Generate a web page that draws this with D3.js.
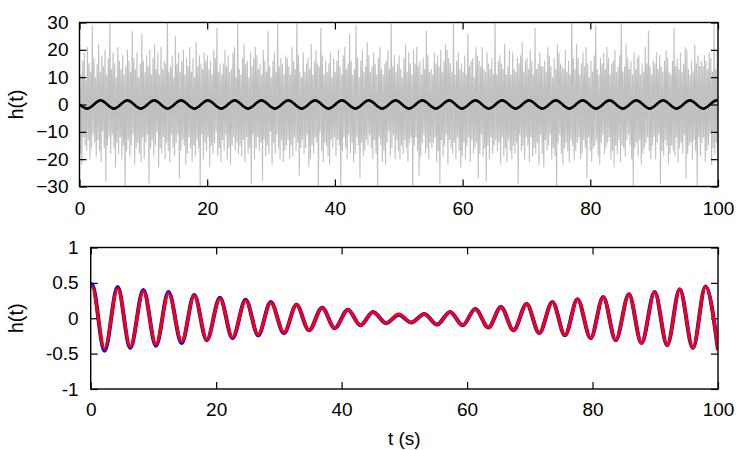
<!DOCTYPE html>
<html>
<head>
<meta charset="utf-8">
<script src="https://cdn.jsdelivr.net/npm/d3@7"></script>
<style>
  body { margin: 0; background: #fff; }
  text { font-family: "Liberation Sans", Arial, sans-serif; }
</style>
</head>
<body>
<div id="chart"></div>
<script>
// dati

// pannello alto: rumore grigio (campioni equispaziati su 0..100 s)
var rumore = [
 14,-18,11,-22,16,-12,19,-15,9,-17,21,-13,15,-20,12,-16,29,-11,17,-14,
 10,-19,15,-13,22,-17,12,-21,18,-10,14,-16,20,-28,11,-15,17,-12,31,-18,
 13,-11,19,-16,15,-23,10,-14,21,-18,16,-12,13,-20,18,-15,11,-31,14,-17,
 20,-13,16,-19,12,-15,27,-11,17,-22,13,-16,19,-14,10,-18,15,-21,26,-12,
 16,-20,12,-14,18,-11,14,-29,20,-16,11,-13,17,-19,22,-15,13,-10,19,-23,
 11,-16,21,-18,13,-12,16,-20,15,-14,33,-17,12,-21,14,-11,18,-16,10,-19,
 25,-14,15,-11,19,-27,12,-17,16,-13,20,-15,11,-22,17,-18,14,-12,21,-16,
 12,-21,17,-15,10,-19,23,-13,14,-16,18,-30,15,-11,13,-20,19,-14,16,-17,
 18,-12,13,-23,16,-15,11,-18,20,-14,17,-10,28,-19,12,-16,15,-21,11,-13,
 15,-17,20,-11,14,-20,18,-16,12,-22,13,-15,19,-12,21,-17,10,-14,30,-18,
 13,-15,11,-19,17,-13,22,-21,15,-12,16,-18,10,-16,19,-29,14,-11,17,-20,
 21,-16,18,-12,13,-17,15,-14,11,-28,20,-13,16,-19,12,-15,27,-18,14,-10,
 10,-22,16,-14,19,-18,12,-11,30,-16,14,-20,17,-13,15,-21,11,-17,18,-15,
 17,-13,14,-20,11,-15,21,-19,16,-12,13,-17,32,-14,18,-26,12,-16,10,-13,
 19,-18,12,-16,15,-11,17,-23,13,-20,22,-15,11,-18,16,-12,20,-14,15,-30,
 14,-10,28,-17,18,-21,11,-14,16,-15,12,-19,15,-22,19,-13,10,-16,17,-12,
 12,-19,16,-13,20,-15,14,-31,11,-17,18,-12,21,-16,13,-20,15,-11,26,-18,
 16,-14,11,-21,13,-18,29,-12,17,-15,10,-27,16,-14,20,-19,12,-17,14,-13,
 23,-15,18,-11,12,-16,14,-20,19,-13,15,-18,11,-30,17,-12,21,-15,13,-21,
 11,-17,15,-22,16,-14,20,-10,13,-19,30,-16,14,-11,18,-20,12,-13,15,-17,
 18,-20,13,-15,10,-18,17,-13,22,-16,12,-21,19,-14,15,-12,11,-33,20,-15,
 15,-12,21,-17,14,-26,16,-19,11,-14,17,-11,13,-18,27,-16,18,-20,12,-14,
 13,-16,11,-14,19,-12,15,-21,18,-17,14,-29,20,-13,12,-19,16,-15,22,-11,
 20,-22,17,-13,15,-16,12,-18,31,-14,11,-20,16,-12,19,-17,13,-23,15,-19,
 12,-14,18,-20,11,-15,26,-12,14,-21,16,-13,17,-18,10,-16,21,-14,18,-27,
 16,-18,14,-11,21,-19,13,-16,12,-28,19,-15,15,-20,13,-12,17,-18,11,-15,
 30,-13,11,-17,16,-14,18,-22,15,-12,13,-19,22,-16,11,-21,14,-13,20,-17,
 11,-20,19,-15,13,-18,12,-14,17,-29,15,-11,18,-17,23,-15,12,-20,16,-12,
 17,-15,13,-21,20,-12,16,-19,11,-16,28,-18,13,-14,15,-22,19,-11,14,-18,
 14,-23,16,-13,12,-17,21,-15,18,-11,14,-20,10,-16,17,-19,13,-31,22,-14,
 19,-11,15,-18,14,-22,13,-16,20,-14,12,-17,16,-21,11,-13,33,-15,17,-20,
 13,-17,22,-14,17,-12,11,-20,15,-18,19,-13,14,-16,21,-27,15,-12,10,-17,
 16,-21,12,-16,18,-15,29,-13,13,-19,11,-22,17,-14,15,-11,19,-18,13,-16,
 21,-14,17,-12,11,-20,15,-17,16,-23,20,-15,12,-18,14,-13,18,-21,32,-15,
 12,-16,14,-19,22,-13,17,-11,13,-15,16,-20,11,-30,19,-16,13,-14,17,-19,
 18,-13,11,-22,15,-18,12,-16,21,-14,15,-12,27,-17,14,-20,11,-15,16,-12,
 15,-20,19,-14,13,-11,18,-29,14,-17,12,-19,16,-13,20,-15,17,-22,12,-18,
 11,-15,16,-17,28,-19,14,-12,17,-21,13,-16,19,-14,12,-18,15,-11,21,-27,
 20,-18,13,-15,11,-14,16,-20,12,-13,22,-17,15,-31,18,-12,14,-19,16,-14,
 14,-12,18,-21,16,-17,13,-15,19,-11,17,-22,12,-16,30,-18,13,-14,20,-16
];

// pannello alto: segnale nero (massimi e minimi)
var tempi_nero = [0,1.2,3.3,5.4,7.5,9.6,11.7,13.8,15.9,18.0,20.1,22.2,24.3,26.4,28.5,30.6,32.7,
 34.8,36.9,39.0,41.1,43.2,45.3,47.4,49.5,51.6,53.7,55.8,57.9,59.9,62.0,64.1,66.2,68.3,70.4,
 72.5,74.6,76.7,78.8,80.9,83.0,85.1,87.2,89.3,91.4,93.5,95.6,97.7,99.8,100];
var valori_nero = [0,-1.5,1.5,-1.5,1.5,-1.5,1.5,-1.5,1.5,-1.5,1.5,-1.5,1.5,-1.5,1.5,-1.5,1.5,
 -1.5,1.5,-1.5,1.5,-1.5,1.5,-1.5,1.5,-1.5,1.5,-1.5,1.5,-1.5,1.5,-1.5,1.5,-1.5,1.5,
 -1.5,1.5,-1.5,1.5,-1.5,1.5,-1.5,1.5,-1.5,1.5,-1.5,1.5,-1.5,1.5,1.45];

// pannello basso: massimi e minimi delle curve blu e rossa
var tempi_basso = [0,0.2,2.2,4.3,6.3,8.4,10.4,12.4,14.5,16.5,18.5,20.6,22.6,24.7,26.7,28.7,30.8,
 32.8,34.8,36.9,38.9,41.0,43.0,45.0,47.1,49.1,51.1,53.2,55.2,57.3,59.3,61.3,63.4,65.4,67.4,
 69.5,71.5,73.6,75.6,77.6,79.7,81.7,83.7,85.8,87.8,89.9,91.9,93.9,96.0,98.0,100];
var valori_blu = [0.47,0.48,-0.46,0.44,-0.42,0.40,-0.39,0.37,-0.35,0.33,-0.31,0.29,-0.28,0.26,-0.24,
 0.23,-0.21,0.19,-0.17,0.15,-0.14,0.12,-0.10,0.09,-0.07,0.05,-0.06,0.06,-0.09,0.09,-0.10,
 0.13,-0.13,0.16,-0.17,0.20,-0.21,0.23,-0.24,0.27,-0.28,0.30,-0.31,0.34,-0.35,0.37,-0.38,
 0.41,-0.42,0.45,-0.45];
var valori_rosso = [0.44,0.45,-0.43,0.42,-0.40,0.38,-0.37,0.35,-0.33,0.32,-0.30,0.28,-0.27,0.25,-0.23,
 0.22,-0.20,0.19,-0.17,0.15,-0.14,0.12,-0.10,0.09,-0.07,0.06,-0.06,0.06,-0.09,0.09,-0.10,
 0.13,-0.13,0.16,-0.17,0.20,-0.21,0.23,-0.24,0.27,-0.28,0.30,-0.31,0.34,-0.35,0.37,-0.38,
 0.41,-0.42,0.45,-0.45];

var tick_x = [0,20,40,60,80,100];
var tick_y_alto = [-30,-20,-10,0,10,20,30];
var tick_y_basso = [-1,-0.5,0,0.5,1];

var larghezza = 750, altezza = 450;
var lungh_tick = 7;

var svg = d3.select("#chart").append("svg")
  .attr("width", larghezza)
  .attr("height", altezza);

// disegna un pannello con tacche su tutti e quattro i lati
function pannello(sx, sy, tick_y, formato_y, pad_x, pad_y, id) {
  var x0 = sx.range()[0], x1 = sx.range()[1];
  var y0 = sy.range()[1], y1 = sy.range()[0];

  svg.append("clipPath").attr("id", id)
    .append("rect").attr("x", x0).attr("y", y0)
    .attr("width", x1 - x0).attr("height", y1 - y0);

  var assi = svg.append("g").attr("class", "assi");

  assi.append("g").attr("transform", "translate(0," + y1 + ")")
    .call(d3.axisBottom(sx).tickValues(tick_x).tickSize(-lungh_tick).tickSizeOuter(0).tickPadding(pad_x));
  assi.append("g").attr("transform", "translate(0," + y0 + ")")
    .call(d3.axisTop(sx).tickValues(tick_x).tickSize(-lungh_tick).tickSizeOuter(0).tickFormat(""));
  assi.append("g").attr("transform", "translate(" + x0 + ",0)")
    .call(d3.axisLeft(sy).tickValues(tick_y).tickSize(-lungh_tick).tickSizeOuter(0).tickPadding(pad_y).tickFormat(formato_y));
  assi.append("g").attr("transform", "translate(" + x1 + ",0)")
    .call(d3.axisRight(sy).tickValues(tick_y).tickSize(-lungh_tick).tickSizeOuter(0).tickFormat(""));

  assi.selectAll(".domain").remove();
  assi.selectAll("line").attr("stroke", "#000").attr("stroke-width", 1.2);
  assi.selectAll("text")
    .attr("font-family", "Liberation Sans, Arial, sans-serif")
    .attr("font-size", 19).attr("fill", "#000");

  return { x0: x0, x1: x1, y0: y0, y1: y1, assi: assi };
}

function cornice(p) {
  svg.append("rect")
    .attr("x", p.x0).attr("y", p.y0)
    .attr("width", p.x1 - p.x0).attr("height", p.y1 - p.y0)
    .attr("fill", "none").attr("stroke", "#000").attr("stroke-width", 1.4);
}

// PANNELLO ALTO
var xA = d3.scaleLinear().domain([0, 100]).range([79.5, 718]);
var yA = d3.scaleLinear().domain([-30, 30]).range([186.5, 22.5]);
var pA = pannello(xA, yA, tick_y_alto, d3.format("d"), 15, 11, "clipA");

var passo = 100 / (rumore.length - 1);
svg.append("path")
  .datum(rumore)
  .attr("clip-path", "url(#clipA)")
  .attr("fill", "none")
  .attr("stroke", "#c0c0c0")
  .attr("stroke-width", 1.1)
  .attr("d", d3.line()
    .x(function(d, i) { return xA(i * passo); })
    .y(function(d) { return yA(d); }));

svg.append("path")
  .datum(d3.zip(tempi_nero, valori_nero))
  .attr("clip-path", "url(#clipA)")
  .attr("fill", "none")
  .attr("stroke", "#000")
  .attr("stroke-width", 2.6)
  .attr("d", d3.line().curve(d3.curveMonotoneX)
    .x(function(d) { return xA(d[0]); })
    .y(function(d) { return yA(d[1]); }));

pA.assi.raise();
cornice(pA);

// PANNELLO BASSO
var xB = d3.scaleLinear().domain([0, 100]).range([90.7, 718]);
var yB = d3.scaleLinear().domain([-1, 1]).range([389, 247.5]);
var pB = pannello(xB, yB, tick_y_basso, function(d) { return String(d); }, 14, 12, "clipB");

var linea_basso = d3.line().curve(d3.curveMonotoneX)
  .x(function(d) { return xB(d[0]); })
  .y(function(d) { return yB(d[1]); });

svg.append("path")
  .datum(d3.zip(tempi_basso, valori_blu))
  .attr("clip-path", "url(#clipB)")
  .attr("fill", "none")
  .attr("stroke", "#0000ff")
  .attr("stroke-width", 4)
  .attr("d", linea_basso);

svg.append("path")
  .datum(d3.zip(tempi_basso, valori_rosso))
  .attr("clip-path", "url(#clipB)")
  .attr("fill", "none")
  .attr("stroke", "#ff0000")
  .attr("stroke-width", 3)
  .attr("d", linea_basso);

cornice(pB);

// etichette degli assi
svg.append("text")
  .attr("transform", "translate(23," + yA(0) + ") rotate(-90)")
  .attr("text-anchor", "middle")
  .attr("font-size", 20)
  .text("h(t)");

svg.append("text")
  .attr("transform", "translate(23," + yB(0) + ") rotate(-90)")
  .attr("text-anchor", "middle")
  .attr("font-size", 20)
  .text("h(t)");

svg.append("text")
  .attr("x", (xB.range()[0] + xB.range()[1]) / 2)
  .attr("y", 445)
  .attr("text-anchor", "middle")
  .attr("font-size", 19)
  .text("t (s)");
</script>
</body>
</html>
